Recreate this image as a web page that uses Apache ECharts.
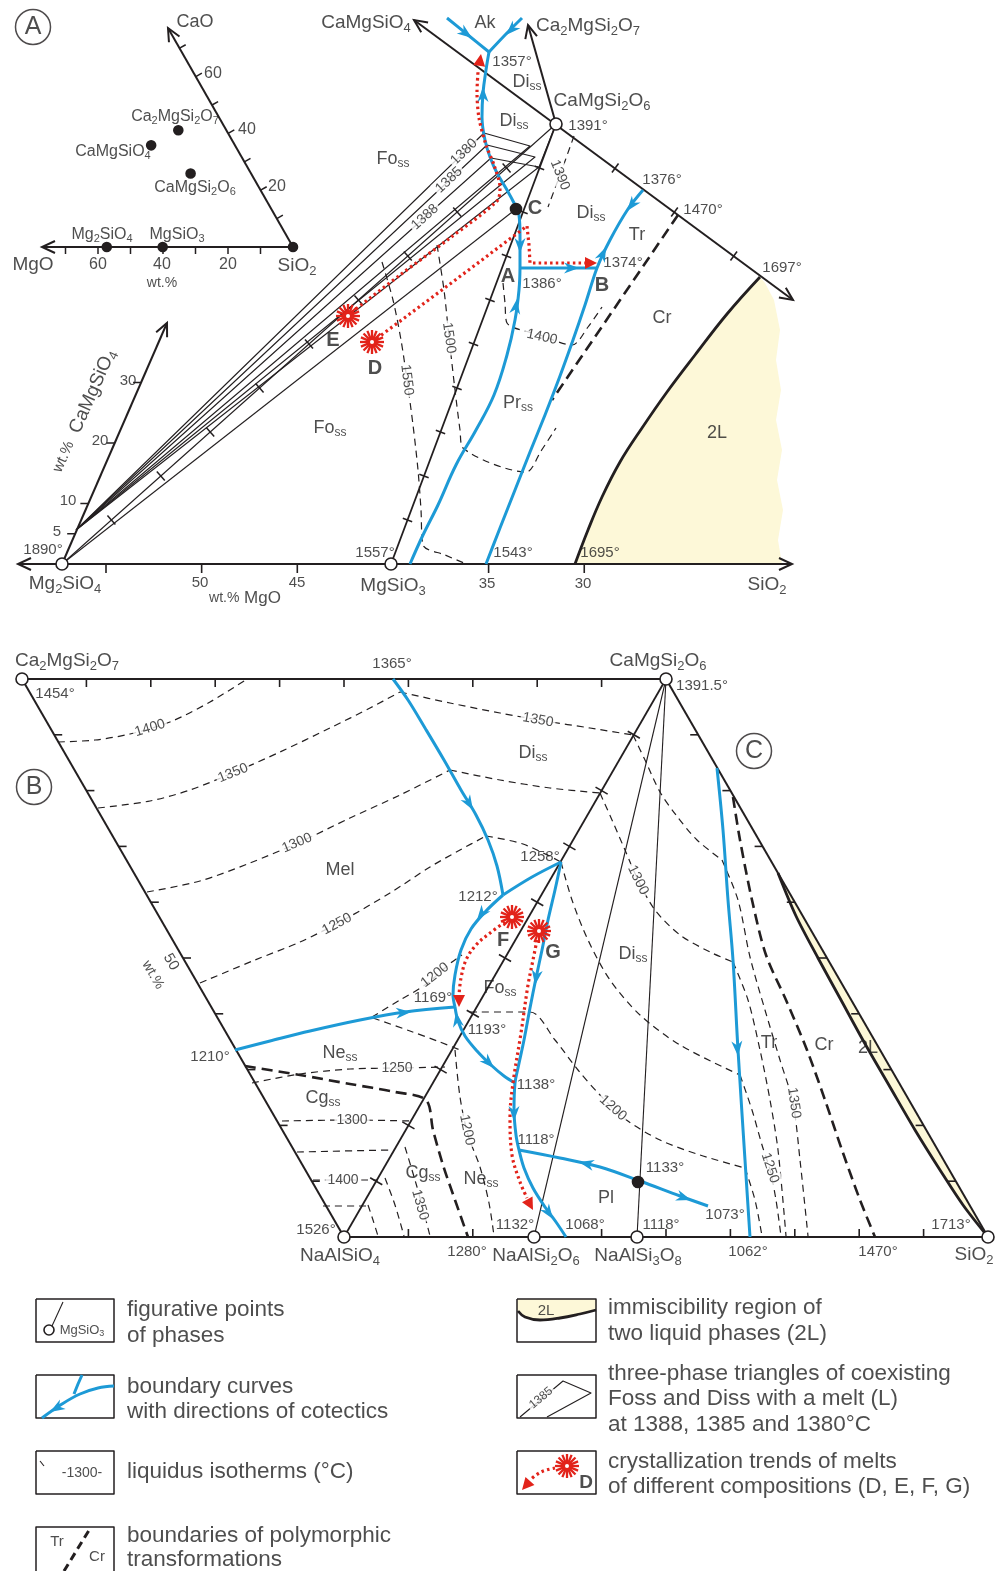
<!DOCTYPE html>
<html>
<head>
<meta charset="utf-8">
<title>Liquidus diagrams: Mg2SiO4–CaMgSiO4–SiO2 and Ca2MgSi2O7–NaAlSiO4–SiO2</title>
<script src="https://cdn.jsdelivr.net/npm/echarts@6.0.0/dist/echarts.min.js"></script>
<style>
html,body{margin:0;padding:0;background:#fff;}
#chart{width:1006px;height:1571px;}
</style>
</head>
<body>
<div id="chart"></div>
<script>
// ===== colours and fonts =====
const INK = '#231f20';
const TEXT = '#222222';
const BLUE = '#1d9ad6';
const RED = '#e2231a';
const PALE = '#fdf8d8';
const FONT = '"Liberation Sans", Arial, Helvetica, sans-serif';
const TENTHS = [0.1, 0.2, 0.3, 0.4, 0.5, 0.6, 0.7, 0.8, 0.9];

// ===== inset: MgO–CaO–SiO2 triangle (wt.%) =====
const insetSiO2 = [293, 247];
const insetPerMgO = [-3.25, 0];
const insetPerCaO = [-1.62, -2.84];
const insetTickValues = [10, 20, 30, 40, 50, 60, 70];
const insetPhases = [ // MgO wt.%, CaO wt.%
  [57.3, 0], [40.1, 0], [25.8, 35.8], [14.8, 41.1], [18.6, 25.9], [0, 0]
];
function insetPos(mgo, cao) {
  return [insetSiO2[0] + insetPerMgO[0] * mgo + insetPerCaO[0] * cao,
          insetSiO2[1] + insetPerMgO[1] * mgo + insetPerCaO[1] * cao];
}
const insetMgOAxis = [insetSiO2, [42, 247]];
const insetCaOAxis = [insetSiO2, [168, 28]];

// ===== panel A: Mg2SiO4–CaMgSiO4–SiO2 =====
const A_Mg2SiO4 = [62, 564], A_MgSiO3 = [391, 564], A_CaMgSi2O6 = [556, 124];
const A_baseAxis = [[18, 564], [792, 564]];
const A_baseTickValues = [55, 50, 45, 35, 30];            // wt.% MgO
function A_mgoX(v) { return 62 + (57.3 - v) * 19.13; }
const A_sideAxis = [A_Mg2SiO4, [167, 323]];
const A_sideTickValues = [5, 10, 20, 30];                  // wt.% CaMgSiO4
function A_sidePos(v) { return [62 + 2.636 * v, 564 - 6.05 * v]; }
const A_topLine = [[414, 20], [793, 300]];
const A_akermaniteLine = [A_CaMgSi2O6, [528, 25]];
const A_joinFoDi = [A_Mg2SiO4, A_CaMgSi2O6];
const A_joinEnDi = [A_MgSiO3, A_CaMgSi2O6];
const A_foToC = [A_Mg2SiO4, [516, 209]];
const A_foss = [76, 530];
const A_triLiquid = [[484, 133], [487, 145], [491, 158]];    // 1380, 1385, 1388
const A_triDiopside = [[530, 146], [535, 157], [539, 167]];
const A_dissLine = [A_CaMgSi2O6, [539, 167]];

const A_bcAk1 = [[447, 18], [468, 35], [489, 52]];
const A_bcAk2 = [[522, 18], [506, 34], [489, 52]];
const A_bcUpper = [[489, 52], [486, 70], [483, 93], [482, 117], [485, 140], [490, 157], [497, 173], [507, 190], [514, 203], [519, 215], [520, 235], [520, 268]];
const A_bcLower = [[520, 268], [519, 290], [515, 320], [507, 355], [494, 395], [476, 430], [456, 465], [438, 505], [423, 535], [410, 564]];
const A_bcAB = [[520, 268], [597, 268]];
const A_bcPrTr = [[486, 564], [500, 528], [515, 490], [530, 452], [545, 415], [560, 376], [573, 340], [585, 305], [597, 268], [610, 240], [628, 209], [643, 190]];
const A_trCr = [[678, 215], [552, 400]];
const A_twoLiquid = [[760, 277], [727, 314], [695, 355], [667, 392], [642, 428], [620, 462], [602, 497], [588, 530], [575, 564]];
const A_twoLiquidEdge = [[782, 564], [778, 540], [783, 510], [777, 480], [782, 450], [776, 420], [781, 390], [776, 360], [780, 330], [774, 300], [765, 283]];
const A_iso1390 = [[574, 136], [560, 175], [548, 207]];
const A_iso1400 = [[503, 283], [505, 303], [507, 323], [540, 335], [572, 345], [588, 327], [602, 307]];
const A_iso1500 = [[437, 245], [444, 290], [449, 337], [455, 390], [460, 430], [463, 448], [526, 472], [541, 451], [556, 428]];
const A_iso1550 = [[382, 262], [393, 300], [401, 340], [407, 380], [413, 425], [418, 470], [421, 510], [423, 545], [445, 555], [464, 563]];
const A_trendE = [[347, 316], [400, 275], [450, 238], [497, 201], [500, 188], [494, 165], [486, 145], [479, 118], [477, 92], [478, 72]];
const A_trendD = [[372, 342], [450, 284], [527, 226], [529, 245], [530, 263], [585, 263]];
const A_melts = [[348, 316], [372, 342]];
const A_pointC = [[516, 209]];

// ===== panel B: Ca2MgSi2O7–NaAlSiO4–SiO2 =====
const B_Ak = [22, 679], B_Di = [666, 679], B_Ne = [344, 1237], B_Jd = [534, 1237], B_Ab = [637, 1237], B_Q = [988, 1237];
const B_pointDot = [[638, 1182]];
const B_bc1365 = [[393, 679], [408, 700], [425, 728], [444, 760], [461, 790], [476, 815], [488, 840], [497, 866], [503, 895]];
const B_bc1258 = [[561, 862], [532, 877], [503, 895]];
const B_bc1212 = [[503, 895], [486, 911], [471, 929], [461, 950], [455, 975], [453, 995], [455, 1007]];
const B_bc1210 = [[235, 1050], [270, 1041], [310, 1031], [360, 1020], [405, 1012], [455, 1007]];
const B_bc1193 = [[455, 1007], [458, 1021], [465, 1036], [477, 1051], [491, 1065], [504, 1076], [515, 1083]];
const B_bcG = [[561, 862], [555, 890], [548, 920], [542, 950], [536, 978], [530, 1008], [524, 1040], [518, 1068], [515, 1083], [514, 1110], [516, 1135], [519, 1150], [524, 1168], [533, 1188], [545, 1207], [556, 1222], [566, 1237]];
const B_bc1118 = [[519, 1150], [560, 1158], [600, 1167], [640, 1181], [680, 1196], [708, 1206]];
const B_bcSilica = [[717, 768], [723, 830], [728, 900], [733, 960], [738, 1050], [745, 1160], [750, 1237]];
const B_trCr = [[733, 797], [740, 840], [752, 900], [766, 955], [786, 1000], [807, 1050], [825, 1100], [842, 1150], [860, 1200], [875, 1237]];
const B_neCg = [[245, 1066], [300, 1075], [350, 1084], [395, 1092], [426, 1100], [433, 1130], [443, 1165], [455, 1200], [468, 1237]];
const B_twoLiquid = [[778, 873], [796, 916], [818, 958], [841, 1000], [864, 1042], [890, 1087], [915, 1130], [940, 1170], [963, 1205], [988, 1237]];
const B_isotherms = [
  [[58, 742], [95, 740], [130, 734], [170, 722], [210, 702], [247, 679]],
  [[98, 808], [150, 801], [190, 790], [235, 772], [280, 752], [330, 728], [370, 708], [400, 692]],
  [[400, 692], [450, 703], [500, 713], [545, 721], [590, 728], [633, 735]],
  [[147, 892], [200, 881], [250, 863], [300, 842], [350, 818], [400, 795], [450, 770]],
  [[450, 770], [500, 780], [550, 788], [600, 793]],
  [[200, 983], [255, 960], [300, 942], [340, 922], [390, 893], [430, 867], [460, 850], [486, 836]],
  [[486, 836], [523, 844], [561, 862]],
  [[372, 1017], [400, 1000], [425, 985], [452, 962], [462, 955]],
  [[373, 1018], [410, 1031], [440, 1042], [460, 1050]],
  [[252, 1083], [300, 1074], [350, 1069], [400, 1068], [445, 1067]],
  [[282, 1121], [350, 1120], [412, 1121]],
  [[297, 1152], [390, 1150]],
  [[313, 1180], [378, 1180]],
  [[323, 1206], [366, 1206]],
  [[368, 1205], [373, 1220], [378, 1236]],
  [[385, 1178], [395, 1205], [404, 1236]],
  [[405, 1147], [415, 1180], [422, 1205], [430, 1236]],
  [[455, 1050], [460, 1097], [468, 1135], [480, 1167], [489, 1203], [494, 1236]],
  [[633, 735], [645, 760], [660, 792], [676, 815], [697, 840], [722, 860]],
  [[722, 860], [738, 900], [750, 957], [765, 1010], [780, 1060], [793, 1103], [800, 1160], [808, 1236]],
  [[600, 793], [612, 820], [625, 850], [638, 880], [655, 910], [680, 935], [710, 952], [733, 962]],
  [[733, 962], [748, 1000], [760, 1050], [770, 1100], [778, 1150], [786, 1236]],
  [[561, 862], [572, 900], [588, 940], [610, 980], [640, 1015], [680, 1045], [740, 1075]],
  [[740, 1075], [752, 1110], [762, 1145], [770, 1170], [776, 1200], [781, 1236]],
  [[470, 1012], [530, 1012], [555, 1040], [578, 1070], [600, 1095], [625, 1119], [660, 1140], [700, 1155], [745, 1168]],
  [[745, 1168], [755, 1200], [762, 1236]]
];
const B_trendF = [[505, 922], [490, 933], [476, 945], [466, 960], [461, 978], [459, 995]];
const B_trendG = [[537, 940], [533, 960], [528, 985], [521, 1033], [513, 1083], [510, 1117], [512, 1155], [520, 1182], [527, 1198]];
const B_melts = [[512, 917], [539, 931]];

// ===== helpers =====
function lerp(a, b, f) { return [a[0] + (b[0] - a[0]) * f, a[1] + (b[1] - a[1]) * f]; }
const series = [];
const ST = {
  axis: { color: INK, width: 2 },
  frame: { color: INK, width: 1.5 },
  thin: { color: INK, width: 1.1 },
  join: { color: INK, width: 1.8 },
  blue: { color: BLUE, width: 3 },
  iso: { color: INK, width: 1.2, type: [7, 5] },
  bound: { color: INK, width: 2.6, type: [11, 6] },
  red: { color: RED, width: 3.2, type: [2.5, 3.2] },
  heavy: { color: INK, width: 2.8 }
};
function addLine(pts, st, smooth, z) {
  series.push({
    type: 'line', data: pts, symbol: 'none', smooth: smooth || false, silent: true, animation: false,
    clip: false, z: z || 2,
    lineStyle: { color: st.color, width: st.width, type: st.type || 'solid', cap: 'butt', join: 'round' }
  });
}
function addFill(pts, color, z) {
  series.push({
    type: 'custom', coordinateSystem: 'cartesian2d', data: [pts[0]], silent: true, animation: false,
    clip: false, z: z || 1,
    renderItem: (p, api) => ({ type: 'polygon', shape: { points: pts.map(q => api.coord(q)) }, style: { fill: color } })
  });
}
function addMarks(pts, size, fill, stroke, z) {
  series.push({
    type: 'scatter', data: pts, symbol: 'circle', symbolSize: size, silent: true, animation: false, z: z || 6,
    itemStyle: { color: fill, borderColor: stroke, borderWidth: 1.6, opacity: 1 }
  });
}
// ticks along a straight axis; dir 'perp' = perpendicular, centred on the line
function addTicks(from, to, fractions, dir, len, centred, width) {
  const pts = fractions.map(f => lerp(from, to, f));
  addTicksAt(pts, from, to, dir, len, centred, width);
}
function addTicksAt(pts, from, to, dir, len, centred, width) {
  series.push({
    type: 'custom', coordinateSystem: 'cartesian2d', data: pts, silent: true, animation: false, clip: false, z: 3,
    renderItem: (p, api) => {
      const c = api.coord([api.value(0), api.value(1)]);
      let n = dir;
      if (dir === 'perp') {
        const a = api.coord(from), b = api.coord(to);
        const l = Math.hypot(b[0] - a[0], b[1] - a[1]);
        n = [-(b[1] - a[1]) / l, (b[0] - a[0]) / l];
      }
      const s = centred ? [c[0] - n[0] * len / 2, c[1] - n[1] * len / 2] : c;
      const e = centred ? [c[0] + n[0] * len / 2, c[1] + n[1] * len / 2] : [c[0] + n[0] * len, c[1] + n[1] * len];
      return { type: 'line', shape: { x1: s[0], y1: s[1], x2: e[0], y2: e[1] }, style: { stroke: INK, lineWidth: width || 1.5 } };
    }
  });
}
// arrowheads: each item is [tipX, tipY, backX, backY]
function addHeads(items, kind) {
  series.push({
    type: 'custom', coordinateSystem: 'cartesian2d', data: items, silent: true, animation: false, clip: false, z: 7,
    renderItem: (p, api) => {
      const t = api.coord([api.value(0), api.value(1)]);
      const b = api.coord([api.value(2), api.value(3)]);
      let dx = t[0] - b[0], dy = t[1] - b[1];
      const l = Math.hypot(dx, dy); dx /= l; dy /= l;
      const nx = -dy, ny = dx;
      if (kind === 'open') {
        const L = 13, W = 6;
        return { type: 'polyline', shape: { points: [[t[0] - dx * L + nx * W, t[1] - dy * L + ny * W], t, [t[0] - dx * L - nx * W, t[1] - dy * L - ny * W]] }, style: { stroke: INK, lineWidth: 2, fill: null } };
      }
      const L = kind === 'barb' ? 15 : 12, W = kind === 'barb' ? 5.5 : 6, notch = kind === 'barb' ? 4.5 : 0;
      const col = kind === 'barb' ? BLUE : RED;
      return {
        type: 'polygon',
        shape: { points: [t, [t[0] - dx * L + nx * W, t[1] - dy * L + ny * W], [t[0] - dx * (L - notch), t[1] - dy * (L - notch)], [t[0] - dx * L - nx * W, t[1] - dy * L - ny * W]] },
        style: { fill: col }
      };
    }
  });
}
function addStars(pts) {
  series.push({
    type: 'custom', coordinateSystem: 'cartesian2d', data: pts, silent: true, animation: false, clip: false, z: 8,
    renderItem: (p, api) => {
      const c = api.coord([api.value(0), api.value(1)]);
      const kids = [];
      for (let i = 0; i < 16; i++) {
        const a = i * Math.PI / 8;
        kids.push({ type: 'line', shape: { x1: c[0] + 3 * Math.cos(a), y1: c[1] + 3 * Math.sin(a), x2: c[0] + 12 * Math.cos(a), y2: c[1] + 12 * Math.sin(a) }, style: { stroke: RED, lineWidth: 2.3 } });
      }
      kids.push({ type: 'circle', shape: { cx: c[0], cy: c[1], r: 5.5 }, style: { fill: RED } });
      kids.push({ type: 'circle', shape: { cx: c[0], cy: c[1], r: 2 }, style: { fill: '#fff' } });
      return { type: 'group', children: kids };
    }
  });
}
function richFor(size) {
  const sub = Math.round(size * 0.68);
  return {
    s: { fontSize: sub, lineHeight: sub, padding: [Math.round(size * 0.52), 0, 0, 0], fontFamily: FONT, color: TEXT },
    w: { fontSize: Math.round(size * 0.8), fontFamily: FONT, color: TEXT }
  };
}
// text: [x, y, text, size, options]
function addTexts(list) {
  series.push({
    type: 'scatter', symbolSize: 1, itemStyle: { color: 'rgba(0,0,0,0)' }, silent: true, animation: false, z: 10,
    data: list.map(t => {
      const o = t[4] || {};
      return {
        value: [t[0], t[1]],
        label: {
          show: true, position: 'inside', formatter: () => t[2], fontFamily: FONT, fontSize: t[3],
          fontWeight: o.bold ? 'bold' : 'normal', color: o.color || TEXT, rotate: o.rot || 0,
          align: o.align || 'center', verticalAlign: 'middle', lineHeight: Math.round(t[3] * 1.2),
          backgroundColor: o.bg ? '#fff' : 'transparent', padding: o.bg ? [0, 2] : 0, rich: richFor(t[3])
        }
      };
    })
  });
}

// ===== inset =====
addLine(insetMgOAxis, ST.axis);
addLine(insetCaOAxis, ST.axis);
addTicksAt(insetTickValues.map(v => insetPos(v, 0)), insetMgOAxis[0], insetMgOAxis[1], [0, 1], 7, false, 1.5);
addTicksAt(insetTickValues.map(v => insetPos(0, v)), insetCaOAxis[0], insetCaOAxis[1], [0.87, -0.49], 7, false, 1.5);
addHeads([[42, 247, 54, 247], [168, 28, 174, 39]], 'open');
addMarks(insetPhases.map(c => insetPos(c[0], c[1])), 9, INK, INK, 6);

// ===== panel A =====
addFill(A_twoLiquid.concat(A_twoLiquidEdge), PALE, 1);
addLine(A_baseAxis, ST.axis);
addTicksAt(A_baseTickValues.map(v => [A_mgoX(v), 564]), A_baseAxis[0], A_baseAxis[1], [0, 1], 9, false, 1.6);
addLine(A_sideAxis, ST.axis);
addTicksAt(A_sideTickValues.map(A_sidePos), A_sideAxis[0], A_sideAxis[1], [-1, 0], 8, false, 1.5);
addLine(A_topLine, ST.axis);
addTicks(A_CaMgSi2O6, A_topLine[1], [0.25, 0.5, 0.75], 'perp', 11, true, 1.6);
addLine(A_akermaniteLine, ST.axis);
addHeads([[18, 564, 30, 564], [792, 564, 780, 564], [167, 323, 162, 334], [414, 20, 424, 27], [793, 300, 783, 293], [528, 25, 531, 37]], 'open');
addLine(A_joinFoDi, ST.thin);
addTicks(A_joinFoDi[0], A_joinFoDi[1], TENTHS, 'perp', 12, true, 1.5);
addLine(A_joinEnDi, ST.join);
addTicks(A_joinEnDi[0], A_joinEnDi[1], TENTHS, 'perp', 10, true, 1.5);
addLine(A_foToC, ST.thin);
addLine(A_dissLine, ST.thin);
for (let i = 0; i < A_triLiquid.length; i++) {
  addLine([A_foss, A_triLiquid[i], A_triDiopside[i], A_foss], ST.thin);
}
addLine(A_iso1390, ST.iso);
addLine(A_iso1400, ST.iso, 0.3);
addLine(A_iso1500, ST.iso, 0.3);
addLine(A_iso1550, ST.iso, 0.3);
addLine(A_trCr, ST.bound);
addLine(A_twoLiquid, ST.heavy, 0.4);
addLine(A_bcAk1, ST.blue, 0.3, 4);
addLine(A_bcAk2, ST.blue, 0.3, 4);
addLine(A_bcUpper, ST.blue, 0.4, 4);
addLine(A_bcLower, ST.blue, 0.4, 4);
addLine(A_bcAB, ST.blue, false, 4);
addLine(A_bcPrTr, ST.blue, 0.3, 4);
addHeads([[472, 38, 464, 32], [506, 35, 513, 28], [483, 87, 483, 100], [520, 253, 520, 240], [517, 299, 515, 312], [579, 268, 566, 268], [606, 247, 601, 258], [627, 211, 634, 202]], 'barb');
addLine(A_trendE, ST.red, 0.3, 5);
addLine(A_trendD, ST.red, false, 5);
addHeads([[481, 54, 479, 67], [597, 263, 585, 263]], 'solid');
addStars(A_melts);
addMarks([A_Mg2SiO4, A_MgSiO3, A_CaMgSi2O6], 12, '#fff', INK, 6);
addMarks(A_pointC, 11, INK, INK, 6);

// ===== panel B =====
addFill(B_twoLiquid.concat([B_Q, [778, 873]]), PALE, 1);
addLine([B_Ak, B_Di], ST.axis);
addLine([B_Ak, B_Ne], ST.axis);
addLine([B_Ne, B_Q], ST.axis);
addLine([B_Di, B_Q], ST.axis);
addLine([B_Di, B_Ne], ST.join);
addLine([B_Di, B_Jd], ST.thin);
addLine([B_Di, B_Ab], ST.thin);
addTicks(B_Ak, B_Di, TENTHS, [0, 1], 8, false, 1.6);
addTicks(B_Ak, B_Ne, TENTHS, [1, 0], 8, false, 1.6);
addTicks(B_Di, B_Q, TENTHS, [-1, 0], 8, false, 1.6);
addTicks(B_Ne, B_Q, [0.1, 0.2, 0.4, 0.5, 0.6, 0.7, 0.8, 0.9], [0, -1], 8, false, 1.6);
addTicks(B_Di, B_Ne, TENTHS, 'perp', 14, true, 1.6);
B_isotherms.forEach(iso => addLine(iso, ST.iso, 0.3));
addLine(B_trCr, ST.bound, 0.3);
addLine(B_neCg, ST.bound, 0.3);
addLine(B_twoLiquid, ST.heavy, 0.3);
[B_bc1365, B_bc1258, B_bc1212, B_bc1210, B_bc1193, B_bcG, B_bc1118, B_bcSilica].forEach(c => addLine(c, ST.blue, 0.35, 4));
addHeads([[473, 810, 467, 800], [477, 920, 483, 912], [411, 1012, 398, 1013], [456, 1012, 458, 1024], [494, 1068, 484, 1058],
  [535, 985, 537, 972], [514, 1121, 514, 1108], [553, 1219, 546, 1209], [579, 1162, 592, 1165], [691, 1200, 679, 1196], [738, 1056, 737, 1043]], 'barb');
addLine(B_trendF, ST.red, 0.35, 5);
addLine(B_trendG, ST.red, 0.35, 5);
addHeads([[459, 1007, 459, 995], [533, 1210, 527, 1199]], 'solid');
addStars(B_melts);
addMarks([B_Ak, B_Di, B_Ne, B_Jd, B_Ab, B_Q], 12, '#fff', INK, 6);
addMarks(B_pointDot, 11, INK, INK, 6);

// ===== legend =====
const box = (x, y, w, h) => [[x, y], [x + w, y], [x + w, y + h], [x, y + h], [x, y]];
addLine(box(36, 1299, 78, 43), ST.frame);
addLine(box(36, 1375, 78, 43), ST.frame);
addLine(box(36, 1451, 78, 43), ST.frame);
addLine([[36, 1571], [36, 1527], [114, 1527], [114, 1571]], ST.frame);
addFill([[517, 1299], [596, 1299], [596, 1311], [580, 1314], [560, 1318], [540, 1320], [525, 1317], [517, 1311]], PALE, 1);
addLine(box(517, 1299, 79, 43), ST.frame);
addLine(box(517, 1375, 79, 43), ST.frame);
addLine(box(517, 1451, 79, 43), ST.frame);
addLine([[52, 1326], [63, 1302]], ST.thin);
addMarks([[49, 1330]], 10, '#fff', INK, 6);
addLine([[114, 1386], [98, 1388], [80, 1394], [62, 1404], [42, 1418]], ST.blue, 0.4, 4);
addLine([[82, 1375], [78, 1384], [74, 1394]], ST.blue, false, 4);
addHeads([[50, 1412, 60, 1406]], 'barb');
addLine([[40, 1461], [44, 1466]], ST.thin);
addLine([[64, 1571], [91, 1527]], { color: INK, width: 3, type: [8, 5] });
addLine([[518, 1311], [525, 1317], [540, 1320], [560, 1318], [580, 1314], [596, 1310]], ST.heavy, 0.4);
addLine([[520, 1417], [563, 1381], [591, 1393], [547, 1417]], ST.thin);
addLine([[555, 1468], [541, 1472], [530, 1480]], ST.red, 0.4, 5);
addHeads([[522, 1490, 530, 1481]], 'solid');
addStars([[567, 1466]]);

// ===== text =====
const circled = [[33, 27, 'A'], [34, 787, 'B'], [754, 751, 'C']];
series.push({
  type: 'scatter', data: circled.map(c => ({ value: [c[0], c[1]], name: c[2] })), symbol: 'circle', symbolSize: 35,
  silent: true, animation: false, z: 9, itemStyle: { color: '#fff', borderColor: INK, borderWidth: 1.5 },
  label: { show: true, position: 'inside', formatter: '{b}', fontFamily: FONT, fontSize: 25, color: TEXT }
});
const ISO = { bg: true };
const LEFT = { align: 'left' };
addTexts([
  // inset
  [195, 22, 'CaO', 18], [213, 74, '60', 16], [247, 130, '40', 16], [277, 187, '20', 16],
  [175, 117, 'Ca{s|2}MgSi{s|2}O{s|7}', 16], [113, 152, 'CaMgSiO{s|4}', 16], [195, 188, 'CaMgSi{s|2}O{s|6}', 16],
  [102, 235, 'Mg{s|2}SiO{s|4}', 16], [177, 235, 'MgSiO{s|3}', 16], [33, 265, 'MgO', 19], [98, 265, '60', 16],
  [162, 265, '40', 16], [228, 265, '20', 16], [297, 266, 'SiO{s|2}', 19], [162, 283, 'wt.%', 14],
  // panel A
  [366, 23, 'CaMgSiO{s|4}', 19], [485, 23, 'Ak', 18], [588, 26, 'Ca{s|2}MgSi{s|2}O{s|7}', 19], [512, 62, '1357°', 15],
  [527, 82, 'Di{s|ss}', 18], [602, 101, 'CaMgSi{s|2}O{s|6}', 19], [588, 126, '1391°', 15], [514, 121, 'Di{s|ss}', 18],
  [393, 159, 'Fo{s|ss}', 18], [535, 208, 'C', 20, { bold: true }], [591, 213, 'Di{s|ss}', 18], [662, 180, '1376°', 15],
  [703, 210, '1470°', 15], [637, 235, 'Tr', 18], [782, 268, '1697°', 15], [623, 263, '1374°', 15],
  [508, 276, 'A', 20, { bold: true }], [602, 285, 'B', 20, { bold: true }], [542, 284, '1386°', 15], [662, 318, 'Cr', 18],
  [333, 340, 'E', 20, { bold: true }], [375, 368, 'D', 20, { bold: true }], [518, 403, 'Pr{s|ss}', 18], [717, 433, '2L', 18],
  [330, 428, 'Fo{s|ss}', 18], [43, 550, '1890°', 15], [375, 553, '1557°', 15], [513, 553, '1543°', 15], [600, 553, '1695°', 15],
  [65, 584, 'Mg{s|2}SiO{s|4}', 19], [200, 583, '50', 15], [245, 598, '{w|wt.%} MgO', 17], [297, 583, '45', 15],
  [393, 586, 'MgSiO{s|3}', 19], [487, 584, '35', 15], [583, 584, '30', 15], [767, 585, 'SiO{s|2}', 19],
  [57, 532, '5', 15], [68, 501, '10', 15], [100, 441, '20', 15], [128, 381, '30', 15],
  [84, 411, '{w|wt.%}  CaMgSiO{s|4}', 19, { rot: 66 }],
  [464, 152, '1380', 14, { rot: 44, bg: true }], [449, 180, '1385', 14, { rot: 43, bg: true }], [425, 217, '1388', 14, { rot: 42, bg: true }],
  [560, 175, '1390', 14, { rot: -68, bg: true }], [542, 337, '1400', 14, { rot: -12, bg: true }],
  [449, 338, '1500', 14, { rot: -82, bg: true }], [407, 380, '1550', 14, { rot: -83, bg: true }],
  // panel B
  [67, 661, 'Ca{s|2}MgSi{s|2}O{s|7}', 19], [55, 694, '1454°', 15], [392, 664, '1365°', 15], [658, 661, 'CaMgSi{s|2}O{s|6}', 19],
  [702, 686, '1391.5°', 15], [533, 753, 'Di{s|ss}', 18], [340, 870, 'Mel', 18], [540, 857, '1258°', 15], [478, 897, '1212°', 15],
  [503, 940, 'F', 20, { bold: true }], [553, 952, 'G', 20, { bold: true }], [633, 954, 'Di{s|ss}', 18], [500, 988, 'Fo{s|ss}', 18],
  [433, 998, '1169°', 15], [487, 1030, '1193°', 15], [210, 1057, '1210°', 15], [340, 1053, 'Ne{s|ss}', 18],
  [323, 1098, 'Cg{s|ss}', 18], [423, 1173, 'Cg{s|ss}', 18], [481, 1179, 'Ne{s|ss}', 18], [536, 1085, '1138°', 15],
  [536, 1140, '1118°', 15], [665, 1168, '1133°', 15], [606, 1198, 'Pl', 18], [725, 1215, '1073°', 15], [515, 1225, '1132°', 15],
  [585, 1225, '1068°', 15], [661, 1225, '1118°', 15], [951, 1225, '1713°', 15], [316, 1230, '1526°', 15],
  [340, 1256, 'NaAlSiO{s|4}', 19], [467, 1252, '1280°', 15], [536, 1256, 'NaAlSi{s|2}O{s|6}', 19], [638, 1256, 'NaAlSi{s|3}O{s|8}', 19],
  [748, 1252, '1062°', 15], [878, 1252, '1470°', 15], [974, 1255, 'SiO{s|2}', 19], [769, 1043, 'Tr', 18], [824, 1045, 'Cr', 18],
  [868, 1048, '2L', 18], [153, 975, 'wt.%', 14, { rot: -60 }], [171, 962, '50', 15, { rot: -60 }],
  [150, 728, '1400', 14, { rot: 17, bg: true }], [233, 773, '1350', 14, { rot: 22, bg: true }], [297, 843, '1300', 14, { rot: 23, bg: true }],
  [337, 924, '1250', 14, { rot: 28, bg: true }], [538, 720, '1350', 14, { rot: -10, bg: true }], [638, 880, '1300', 14, { rot: -64, bg: true }],
  [435, 975, '1200', 14, { rot: 38, bg: true }], [397, 1068, '1250', 14, ISO], [352, 1120, '1300', 14, ISO], [343, 1180, '1400', 14, ISO],
  [420, 1205, '1350', 14, { rot: -74, bg: true }], [467, 1130, '1200', 14, { rot: -78, bg: true }], [613, 1108, '1200', 14, { rot: -42, bg: true }],
  [794, 1103, '1350', 14, { rot: -82, bg: true }], [770, 1168, '1250', 14, { rot: -72, bg: true }],
  // legend
  [82, 1330, 'MgSiO{s|3}', 13], [82, 1473, '-1300-', 14], [57, 1542, 'Tr', 15], [97, 1557, 'Cr', 15],
  [546, 1311, '2L', 15], [541, 1398, '1385', 12, { rot: 40, bg: true }], [586, 1483, 'D', 19, { bold: true }],
  [127, 1310, 'figurative points', 22.5, LEFT], [127, 1336, 'of phases', 22.5, LEFT],
  [127, 1387, 'boundary curves', 22.5, LEFT], [127, 1412, 'with directions of cotectics', 22.5, LEFT],
  [127, 1472, 'liquidus isotherms (°C)', 22.5, LEFT],
  [127, 1536, 'boundaries of polymorphic', 22.5, LEFT], [127, 1560, 'transformations', 22.5, LEFT],
  [608, 1308, 'immiscibility region of', 22.5, LEFT], [608, 1334, 'two liquid phases (2L)', 22.5, LEFT],
  [608, 1374, 'three-phase triangles of coexisting', 22.5, LEFT], [608, 1399, 'Foss and Diss with a melt (L)', 22.5, LEFT],
  [608, 1425, 'at 1388, 1385 and 1380°C', 22.5, LEFT],
  [608, 1462, 'crystallization trends of melts', 22.5, LEFT], [608, 1487, 'of different compositions (D, E, F, G)', 22.5, LEFT]
]);

const chart = echarts.init(document.getElementById('chart'), null, { renderer: 'canvas', width: 1006, height: 1571 });
chart.setOption({
  animation: false,
  backgroundColor: '#fff',
  grid: { left: 0, right: 0, top: 0, bottom: 0 },
  xAxis: { type: 'value', min: 0, max: 1006, show: false },
  yAxis: { type: 'value', min: 0, max: 1571, inverse: true, show: false },
  series: series
});
</script>
</body>
</html>
